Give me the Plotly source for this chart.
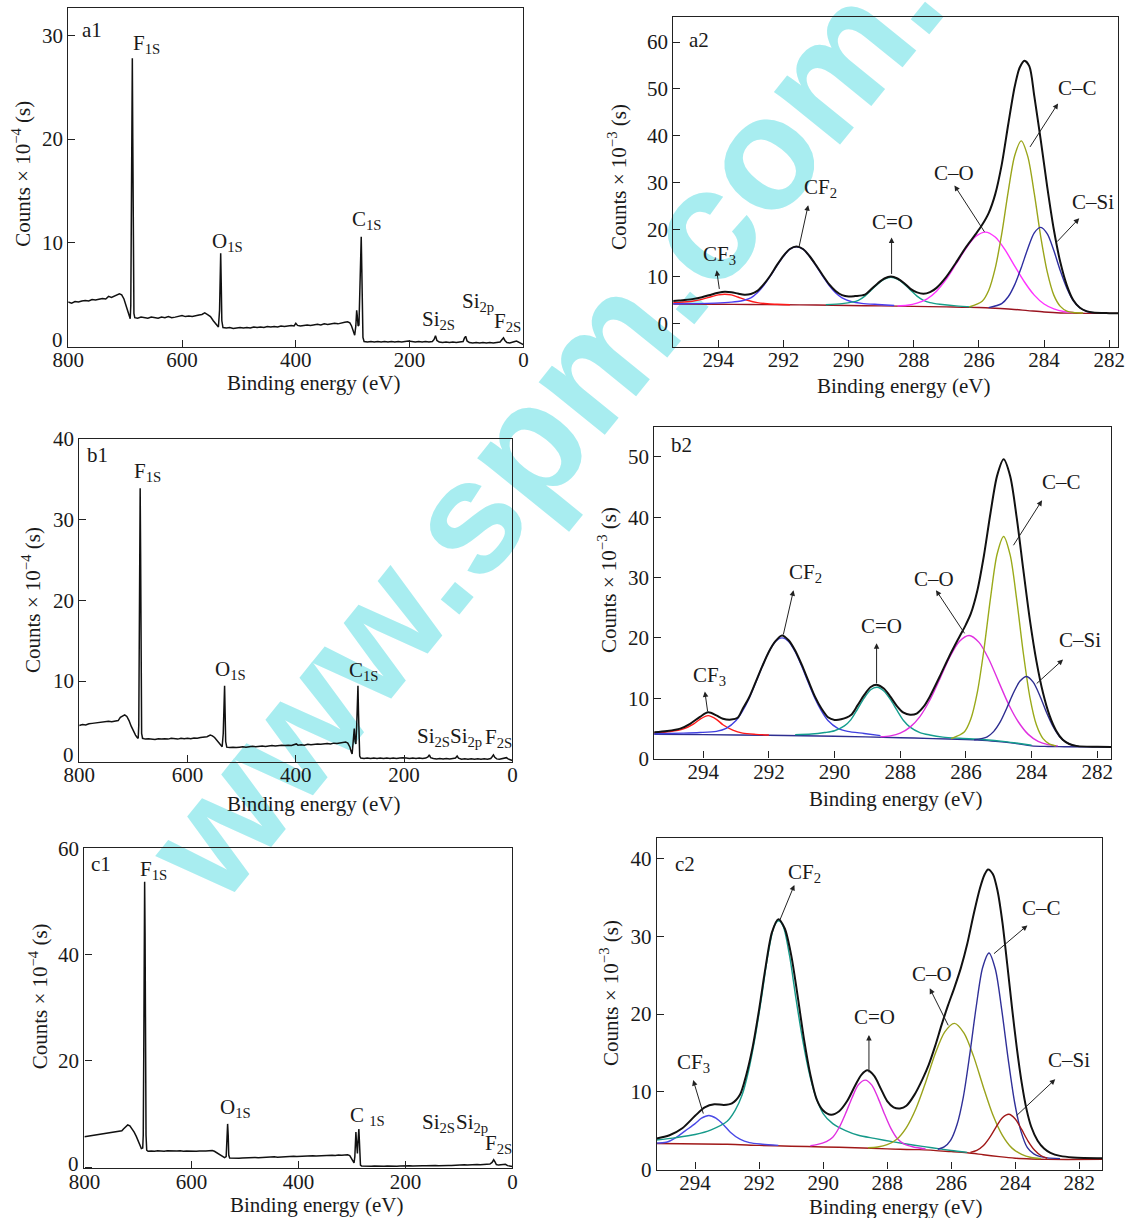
import plotly.graph_objects as go

W, H = 1126, 1218

# ---------------- survey spectra (counts x 10^-4) ----------------
a1_be = [800, 794, 788, 782, 776, 770, 764, 758, 752, 746, 740, 734, 729, 724, 719, 714, 710, 706, 702, 698, 695, 692.5, 691, 690, 689, 688, 687.3, 686.5, 685.5, 684.5, 683, 678, 672, 666, 660, 654, 648, 642, 636, 630, 624, 618, 612, 606, 600, 594, 588, 582, 576, 570, 565, 560, 555, 550, 545, 540, 536, 534, 533, 532, 531, 530, 528, 522, 516, 510, 504, 498, 492, 486, 480, 474, 468, 462, 456, 450, 444, 438, 432, 426, 420, 414, 408, 403, 400, 397, 392, 386, 380, 374, 368, 362, 356, 350, 344, 338, 332, 326, 320, 314, 309, 305, 302, 299, 296.5, 294.5, 293, 292, 290.5, 289, 287.5, 286, 285, 284, 283, 282, 280, 274, 268, 262, 256, 250, 244, 238, 232, 226, 220, 214, 208, 202, 196, 190, 184, 178, 172, 166, 160, 157, 154.5, 152, 148, 142, 136, 130, 124, 118, 112, 106, 103.5, 101.5, 99, 95, 89, 83, 77, 71, 65, 59, 53, 47, 41, 37.5, 35, 32.5, 29, 24, 19, 15, 12, 9, 5, 2, 0]
a1_counts = [4.3, 4.2, 4.35, 4.3, 4.4, 4.45, 4.4, 4.55, 4.5, 4.6, 4.65, 4.6, 4.85, 4.75, 4.9, 5.0, 5.1, 5.0, 4.6, 3.9, 3.3, 2.85, 2.7, 4.0, 12.0, 24.0, 27.8, 20.0, 8.0, 3.2, 2.8, 2.75, 2.85, 2.8, 2.75, 2.85, 2.8, 2.75, 2.85, 2.8, 2.9, 2.8, 2.85, 2.9, 3.0, 2.9, 2.95, 2.9, 3.0, 3.05, 3.1, 3.25, 3.1, 2.9, 2.5, 2.1, 1.9, 3.5, 7.5, 9.0, 6.0, 2.5, 1.85, 1.8, 1.85, 1.75, 1.8, 1.85, 1.8, 1.85, 1.8, 1.9, 1.85, 1.9, 1.85, 1.95, 1.9, 1.95, 1.9, 2.0, 1.95, 2.0, 2.05, 2.0, 2.25, 2.05, 2.0, 2.05, 2.1, 2.05, 2.1, 2.15, 2.1, 2.2, 2.15, 2.2, 2.25, 2.2, 2.3, 2.35, 2.4, 2.3, 2.0, 1.5, 1.1, 2.0, 3.5, 3.0, 2.0, 2.1, 4.5, 8.5, 10.6, 7.5, 2.5, 0.9, 0.5, 0.45, 0.5, 0.45, 0.5, 0.45, 0.5, 0.45, 0.5, 0.45, 0.5, 0.45, 0.5, 0.55, 0.5, 0.45, 0.5, 0.45, 0.5, 0.45, 0.5, 0.7, 1.05, 0.6, 0.45, 0.4, 0.45, 0.4, 0.45, 0.4, 0.45, 0.5, 0.85, 1.0, 0.55, 0.4, 0.35, 0.4, 0.35, 0.4, 0.35, 0.4, 0.35, 0.4, 0.45, 0.7, 0.85, 0.6, 0.4, 0.35, 0.4, 0.5, 0.55, 0.45, 0.3, 0.2, 0.2]

b1_be = [800, 794, 788, 782, 776, 770, 764, 758, 752, 746, 740, 734, 728, 724, 720, 716, 712, 708, 704, 700, 696, 693, 691, 690, 689, 688, 687.4, 686.6, 685.7, 684.7, 683, 678, 672, 666, 660, 654, 648, 642, 636, 630, 624, 618, 612, 606, 600, 594, 588, 582, 576, 570, 564, 558, 554, 550, 545, 540, 536, 534, 532.5, 531.5, 530.5, 529.5, 527.5, 522, 516, 510, 504, 498, 492, 486, 480, 474, 468, 462, 456, 450, 444, 438, 432, 426, 420, 414, 408, 402, 399, 396, 390, 384, 378, 372, 366, 360, 354, 348, 342, 336, 330, 324, 318, 312, 308, 304, 300, 297.5, 296, 294, 292, 290.5, 289, 287.5, 286.2, 285.2, 284.2, 283.2, 282, 280, 274, 268, 262, 256, 250, 244, 238, 232, 226, 220, 214, 208, 202, 196, 190, 184, 178, 172, 166, 160, 156, 153.5, 151, 146, 140, 134, 128, 122, 116, 110, 105, 102, 99.5, 94, 88, 82, 76, 70, 64, 58, 52, 46, 40, 37, 35, 32.5, 29, 24, 18, 14, 11, 8, 4, 0]
b1_counts = [4.5, 4.6, 4.55, 4.7, 4.75, 4.8, 4.85, 4.9, 4.95, 5.0, 4.95, 5.0, 5.1, 5.5, 5.7, 5.8, 5.6, 5.1, 4.4, 3.8, 3.3, 3.0, 2.9, 4.5, 14.0, 28.0, 33.9, 26.0, 11.0, 3.5, 2.9, 2.8, 2.85, 2.8, 2.75, 2.85, 2.8, 2.85, 2.8, 2.9, 2.85, 2.8, 2.9, 2.85, 2.9, 2.85, 2.95, 2.9, 3.0, 3.05, 3.1, 3.3, 3.2, 3.0, 2.6, 2.1, 1.85, 3.5, 7.5, 9.4, 6.0, 2.5, 1.8, 1.75, 1.8, 1.75, 1.8, 1.85, 1.8, 1.85, 1.9, 1.85, 1.9, 1.95, 1.9, 1.95, 2.0, 1.95, 2.0, 2.05, 2.0, 2.05, 2.0, 2.1, 2.2, 2.05, 2.1, 2.05, 2.15, 2.1, 2.15, 2.2, 2.15, 2.2, 2.25, 2.2, 2.3, 2.25, 2.35, 2.4, 2.45, 2.3, 1.8, 1.2, 0.95, 2.5, 4.1, 2.5, 2.2, 4.5, 8.0, 9.4, 6.0, 1.8, 0.7, 0.45, 0.4, 0.45, 0.4, 0.45, 0.4, 0.45, 0.4, 0.45, 0.4, 0.45, 0.4, 0.45, 0.5, 0.45, 0.4, 0.45, 0.4, 0.45, 0.4, 0.45, 0.6, 0.85, 0.5, 0.4, 0.35, 0.4, 0.35, 0.4, 0.35, 0.4, 0.45, 0.7, 0.45, 0.3, 0.35, 0.3, 0.35, 0.3, 0.35, 0.3, 0.35, 0.3, 0.4, 0.65, 0.85, 0.55, 0.35, 0.3, 0.35, 0.45, 0.5, 0.35, 0.2, 0.15]

c1_be = [800, 794, 788, 782, 776, 770, 764, 758, 752, 746, 740, 735, 730, 727, 723, 719, 715, 711, 707, 703, 699, 696, 693.5, 691, 690, 689, 688, 687.4, 686.6, 685.7, 684.8, 683.5, 681, 675, 669, 663, 657, 651, 645, 639, 633, 627, 621, 615, 609, 603, 597, 591, 585, 579, 573, 567, 561, 557, 552, 547, 542, 538, 535, 533.5, 532.3, 531.2, 530.2, 528.5, 523, 517, 511, 505, 499, 493, 487, 481, 475, 469, 463, 457, 451, 445, 439, 433, 427, 421, 415, 409, 403, 397, 391, 385, 379, 373, 367, 361, 355, 349, 343, 337, 331, 325, 319, 313, 308, 304, 300, 297.5, 296, 294.5, 293.3, 292.5, 291.6, 290.5, 289.7, 288.8, 287.8, 287.0, 286.0, 285.0, 284.0, 282, 276, 270, 264, 258, 252, 246, 240, 234, 228, 222, 216, 210, 204, 198, 192, 186, 180, 174, 168, 162, 156, 150, 144, 138, 132, 126, 120, 114, 108, 102, 96, 90, 84, 78, 72, 66, 60, 54, 48, 42, 38, 35, 32.5, 30, 26, 21, 17, 13, 9, 5, 0]
c1_counts = [5.75, 5.85, 5.9, 6.05, 6.1, 6.2, 6.3, 6.35, 6.5, 6.6, 6.7, 6.75, 6.85, 7.2, 7.6, 7.95, 7.8, 7.3, 6.6, 5.8, 4.8, 4.0, 3.5, 3.6, 6.0, 22.0, 45.0, 53.7, 44.0, 20.0, 6.0, 3.2, 3.0, 3.05, 3.0, 3.1, 3.05, 3.0, 3.1, 3.05, 3.0, 3.05, 3.1, 3.0, 3.05, 3.0, 3.05, 3.0, 3.05, 3.0, 3.05, 3.1, 3.15, 3.0, 2.7, 2.3, 1.95, 1.8, 2.0, 5.0, 8.15, 6.0, 2.3, 1.75, 1.7, 1.75, 1.7, 1.75, 1.8, 1.75, 1.8, 1.85, 1.8, 1.85, 1.9, 1.85, 1.9, 1.95, 1.9, 1.95, 2.0, 1.95, 2.0, 2.05, 2.0, 2.05, 2.1, 2.05, 2.1, 2.15, 2.1, 2.15, 2.2, 2.15, 2.2, 2.25, 2.2, 2.3, 2.25, 2.3, 2.35, 2.2, 1.6, 1.0, 0.8, 2.0, 5.0, 6.6, 5.0, 2.8, 2.6, 4.5, 6.5, 7.2, 5.0, 1.5, 0.4, 0.25, 0.2, 0.25, 0.2, 0.25, 0.2, 0.25, 0.2, 0.25, 0.2, 0.25, 0.2, 0.25, 0.3, 0.25, 0.3, 0.25, 0.3, 0.25, 0.3, 0.3, 0.35, 0.3, 0.35, 0.3, 0.35, 0.3, 0.35, 0.35, 0.4, 0.45, 0.4, 0.45, 0.4, 0.45, 0.45, 0.5, 0.45, 0.5, 0.55, 0.6, 0.9, 1.4, 1.0, 0.5, 0.4, 0.5, 0.6, 0.55, 0.3, 0.2, 0.15]

# ---------------- C1s high resolution (counts x 10^-3) ----------------
a2_env_be = [295.6, 295.2, 294.8, 294.5, 294.2, 294.0, 293.8, 293.6, 293.4, 293.2, 293.0, 292.8, 292.6, 292.4, 292.2, 292.0, 291.8, 291.6, 291.4, 291.2, 291.0, 290.8, 290.6, 290.4, 290.2, 290.0, 289.8, 289.5, 289.3, 289.1, 288.9, 288.7, 288.5, 288.3, 288.1, 287.9, 287.7, 287.5, 287.3, 287.0, 286.7, 286.4, 286.1, 285.9, 285.7, 285.5, 285.3, 285.1, 284.9, 284.75, 284.6, 284.45, 284.3, 284.1, 283.9, 283.7, 283.5, 283.3, 283.1, 282.9, 282.7, 282.5, 282.0, 281.6]
a2_env = [4.6, 4.85, 5.15, 5.55, 6.15, 6.5, 6.7, 6.6, 6.35, 6.1, 6.25, 6.9, 8.35, 10.2, 12.4, 14.4, 15.85, 16.35, 15.85, 14.35, 12.4, 10.3, 8.35, 6.9, 6.0, 5.7, 5.8, 6.1, 7.3, 8.55, 9.55, 9.95, 9.55, 8.6, 7.35, 6.6, 6.3, 6.65, 7.55, 9.9, 12.95, 16.2, 19.0, 21.0, 23.5, 27.5, 33.8, 42.4, 50.5, 54.5, 56.0, 54.8, 48.5, 39.0, 29.0, 20.0, 13.0, 8.1, 4.9, 3.3, 2.6, 2.3, 2.15, 2.1]
a2_base_be = [295.6, 294, 293, 292, 291, 290, 289, 288, 287, 286.5, 286, 285.5, 285, 284.5, 284, 283.5, 283, 282.5, 281.6]
a2_base = [4.1, 4.05, 4.0, 3.95, 3.9, 3.8, 3.7, 3.6, 3.5, 3.4, 3.35, 3.2, 3.0, 2.7, 2.4, 2.2, 2.15, 2.1, 2.1]
a2_cf3_be = [295.6, 295.2, 294.8, 294.5, 294.2, 294.0, 293.8, 293.6, 293.4, 293.1, 292.8, 292.5, 292.2, 291.8]
a2_cf3 = [4.3, 4.45, 4.7, 5.1, 5.7, 6.05, 6.2, 6.05, 5.6, 4.9, 4.4, 4.15, 4.05, 3.95]
a2_cf2_be = [295.6, 294.6, 294.1, 293.6, 293.3, 293.0, 292.8, 292.6, 292.4, 292.2, 292.0, 291.8, 291.6, 291.4, 291.2, 291.0, 290.8, 290.6, 290.4, 290.2, 289.9, 289.6, 289.1, 288.6]
a2_cf2 = [4.15, 4.2, 4.3, 4.5, 4.75, 5.4, 6.5, 8.1, 10.1, 12.3, 14.3, 15.8, 16.3, 15.8, 14.3, 12.3, 10.1, 8.1, 6.5, 5.4, 4.6, 4.25, 4.0, 3.8]
a2_cdo_be = [290.7, 290.2, 289.9, 289.7, 289.5, 289.3, 289.1, 288.9, 288.7, 288.5, 288.3, 288.1, 287.9, 287.7, 287.5, 287.2, 286.7, 286.2]
a2_cdo = [3.95, 4.2, 4.5, 4.9, 5.8, 7.1, 8.4, 9.4, 9.8, 9.4, 8.4, 7.1, 5.8, 4.9, 4.4, 4.05, 3.7, 3.5]
a2_co_be = [288.5, 288.2, 287.9, 287.6, 287.3, 287.0, 286.7, 286.4, 286.1, 285.8, 285.5, 285.2, 284.9, 284.6, 284.3, 284.0, 283.7, 283.4, 283.1]
a2_co = [3.7, 3.85, 4.3, 5.15, 6.85, 9.4, 12.65, 15.95, 18.5, 19.45, 18.4, 15.7, 12.2, 8.8, 6.0, 4.1, 3.07, 2.5, 2.3]
a2_cc_be = [286.3, 285.9, 285.7, 285.5, 285.3, 285.1, 284.9, 284.7, 284.5, 284.3, 284.1, 283.9, 283.7, 283.5, 283.3, 283.1, 282.8]
a2_cc = [3.5, 4.7, 7.0, 11.7, 19.0, 28.1, 35.8, 38.9, 35.6, 27.7, 18.4, 10.9, 6.0, 3.6, 2.6, 2.3, 2.2]
a2_csi_be = [285.7, 285.3, 285.1, 284.9, 284.7, 284.5, 284.3, 284.1, 283.9, 283.7, 283.5, 283.3, 283.1, 282.9, 282.7, 282.5]
a2_csi = [3.35, 4.2, 5.65, 8.25, 11.85, 15.9, 19.3, 20.45, 19.05, 15.5, 11.2, 7.5, 4.8, 3.3, 2.55, 2.25]

b2_env_be = [295.6, 295.1, 294.7, 294.4, 294.1, 293.85, 293.6, 293.4, 293.15, 292.95, 292.8, 292.6, 292.4, 292.2, 292.0, 291.8, 291.6, 291.4, 291.2, 291.0, 290.8, 290.6, 290.4, 290.2, 290.0, 289.8, 289.5, 289.3, 289.1, 288.9, 288.7, 288.5, 288.3, 288.1, 287.9, 287.7, 287.5, 287.3, 287.1, 286.8, 286.5, 286.2, 286.0, 285.85, 285.65, 285.45, 285.25, 285.05, 284.85, 284.65, 284.45, 284.25, 284.05, 283.85, 283.65, 283.45, 283.25, 283.05, 282.85, 282.6, 282.0, 281.5]
b2_env = [4.3, 4.55, 4.95, 5.75, 6.9, 7.65, 7.15, 6.6, 6.45, 6.75, 8.2, 10.15, 12.7, 15.3, 17.7, 19.45, 20.4, 19.6, 17.9, 15.55, 12.9, 10.3, 8.3, 6.85, 6.4, 6.5, 7.2, 8.8, 10.5, 11.85, 12.2, 11.6, 10.25, 8.7, 7.6, 7.25, 7.45, 8.5, 10.25, 13.55, 17.0, 20.15, 22.2, 24.0, 27.85, 33.65, 40.7, 46.85, 49.6, 46.8, 39.85, 31.25, 22.95, 16.1, 10.85, 7.1, 4.6, 3.1, 2.4, 2.05, 1.95, 1.9]
b2_base_be = [295.6, 294, 292, 290, 288, 287, 286, 285.5, 285, 284.5, 284, 283.5, 283, 281.5]
b2_base = [4.0, 3.95, 3.85, 3.7, 3.45, 3.3, 3.15, 3.0, 2.8, 2.5, 2.1, 2.0, 1.95, 1.9]
b2_cf3_be = [295.6, 295.0, 294.6, 294.3, 294.1, 293.85, 293.6, 293.4, 293.1, 292.8, 292.4, 292.0]
b2_cf3 = [4.2, 4.45, 4.9, 5.7, 6.5, 7.1, 6.5, 5.6, 4.7, 4.2, 4.0, 3.9]
b2_cf2_be = [295.6, 294.6, 294.1, 293.6, 293.3, 293.0, 292.8, 292.6, 292.4, 292.2, 292.0, 291.8, 291.6, 291.4, 291.2, 291.0, 290.8, 290.6, 290.4, 290.2, 289.9, 289.6, 289.1, 288.6]
b2_cf2 = [4.1, 4.2, 4.3, 4.5, 5.0, 6.3, 7.9, 10.0, 12.6, 15.3, 17.7, 19.4, 20.0, 19.4, 17.7, 15.3, 12.6, 10.0, 7.9, 6.3, 5.0, 4.5, 4.15, 3.8]
b2_cdo_be = [291.2, 290.7, 290.3, 290.0, 289.7, 289.5, 289.3, 289.1, 288.9, 288.7, 288.5, 288.3, 288.1, 287.9, 287.7, 287.4, 287.1, 286.7, 286.2, 285.5, 284.8, 284.0]
b2_cdo = [3.95, 4.05, 4.3, 4.6, 5.4, 6.45, 8.2, 10.0, 11.4, 11.8, 11.2, 9.8, 8.0, 6.3, 5.2, 4.3, 3.9, 3.55, 3.35, 3.15, 2.8, 2.2]
b2_co_be = [288.6, 288.3, 288.0, 287.7, 287.4, 287.1, 286.8, 286.5, 286.2, 285.9, 285.6, 285.3, 285.0, 284.7, 284.4, 284.1, 283.8, 283.5, 283.2]
b2_co = [3.6, 3.75, 4.2, 5.2, 6.95, 9.65, 13.1, 16.7, 19.4, 20.4, 19.25, 16.45, 12.7, 9.0, 6.05, 4.0, 2.85, 2.3, 2.1]
b2_cc_be = [286.45, 286.05, 285.85, 285.65, 285.45, 285.25, 285.05, 284.85, 284.65, 284.45, 284.25, 284.05, 283.85, 283.65, 283.45, 283.25]
b2_cc = [3.3, 4.4, 6.55, 11.0, 18.05, 26.6, 33.85, 36.8, 33.7, 26.25, 17.45, 10.15, 5.55, 3.3, 2.4, 2.1]
b2_csi_be = [285.75, 285.35, 285.15, 284.95, 284.75, 284.55, 284.35, 284.15, 283.95, 283.75, 283.55, 283.35, 283.15, 282.95, 282.75, 282.55]
b2_csi = [3.1, 3.6, 4.5, 6.1, 8.4, 10.9, 12.85, 13.6, 12.65, 10.45, 7.7, 5.35, 3.65, 2.7, 2.2, 2.0]

c2_env_be = [295.4, 295.2, 294.8, 294.4, 294.0, 293.7, 293.4, 293.1, 292.85, 292.6, 292.4, 292.2, 292.0, 291.8, 291.6, 291.4, 291.2, 291.0, 290.8, 290.6, 290.4, 290.2, 290.0, 289.75, 289.5, 289.25, 289.0, 288.8, 288.62, 288.4, 288.2, 288.0, 287.8, 287.6, 287.4, 287.15, 286.9, 286.7, 286.5, 286.3, 286.1, 285.9, 285.7, 285.5, 285.3, 285.1, 284.95, 284.85, 284.7, 284.55, 284.4, 284.25, 284.1, 283.95, 283.8, 283.65, 283.5, 283.3, 283.1, 282.9, 282.6, 282.2, 281.2]
c2_env = [3.9, 4.0, 4.4, 5.3, 6.9, 8.0, 8.4, 8.3, 8.5, 9.6, 12.2, 15.8, 20.6, 26.0, 30.5, 32.2, 31.0, 27.6, 22.4, 16.8, 12.2, 9.0, 7.6, 7.05, 7.5, 8.8, 10.8, 12.2, 12.75, 12.0, 10.4, 8.8, 8.0, 7.85, 8.2, 9.6, 11.6, 13.5, 15.9, 18.6, 21.1, 23.4, 25.9, 29.0, 32.8, 36.2, 38.0, 38.6, 38.0, 35.8, 31.8, 26.4, 20.8, 15.6, 11.2, 7.8, 5.5, 3.7, 2.7, 2.15, 1.75, 1.55, 1.45]
c2_base_be = [295.4, 293, 292, 291, 290, 289, 288, 287, 286, 285.5, 285, 284.5, 284, 283.5, 283, 281.2]
c2_base = [3.35, 3.25, 3.1, 3.0, 2.9, 2.8, 2.65, 2.55, 2.3, 2.15, 1.9, 1.65, 1.45, 1.35, 1.3, 1.3]
c2_cf3_be = [295.4, 294.9, 294.6, 294.3, 294.0, 293.8, 293.57, 293.35, 293.1, 292.9, 292.6, 292.3, 291.9, 291.4]
c2_cf3 = [3.4, 3.5, 4.1, 5.0, 5.9, 6.6, 6.95, 6.6, 5.7, 4.8, 3.9, 3.45, 3.25, 3.1]
c2_cf2_be = [295.4, 294.6, 294.0, 293.5, 293.0, 292.75, 292.53, 292.33, 292.13, 291.93, 291.73, 291.53, 291.39, 291.25, 291.05, 290.85, 290.65, 290.45, 290.25, 290.0, 289.7, 289.3, 288.9, 288.4, 287.8, 287.2, 286.6, 286.0, 285.5]
c2_cf2 = [3.7, 4.1, 4.5, 5.1, 6.2, 7.6, 9.6, 12.7, 16.9, 22.0, 27.5, 31.3, 32.0, 31.3, 27.5, 22.0, 16.9, 12.7, 9.6, 7.2, 5.9, 5.0, 4.4, 4.0, 3.55, 3.15, 2.8, 2.45, 2.2]
c2_cdo_be = [290.4, 290.2, 289.9, 289.7, 289.5, 289.3, 289.1, 288.9, 288.68, 288.48, 288.28, 288.08, 287.88, 287.68, 287.48, 287.18, 286.8]
c2_cdo = [3.05, 3.2, 3.6, 4.15, 5.4, 7.2, 9.2, 10.9, 11.5, 10.85, 9.15, 7.1, 5.25, 3.95, 3.3, 2.9, 2.65]
c2_co_be = [288.6, 288.3, 288.0, 287.7, 287.4, 287.1, 286.8, 286.5, 286.2, 285.9, 285.6, 285.3, 285.0, 284.7, 284.4, 284.1, 283.8, 283.5, 283.2]
c2_co = [2.8, 2.9, 3.2, 3.9, 5.4, 7.85, 11.2, 14.9, 17.7, 18.8, 17.55, 14.55, 10.65, 7.05, 4.4, 2.75, 1.95, 1.55, 1.4]
c2_cc_be = [286.42, 286.22, 286.02, 285.82, 285.62, 285.42, 285.22, 285.02, 284.82, 284.62, 284.42, 284.22, 284.02, 283.82, 283.62, 283.42, 283.22, 283.0, 282.6]
c2_cc = [2.6, 2.9, 3.75, 5.75, 9.35, 14.8, 20.9, 25.95, 27.85, 25.75, 20.5, 14.2, 8.65, 4.9, 2.8, 2.0, 1.65, 1.5, 1.4]
c2_csi_be = [285.4, 285.2, 285.0, 284.8, 284.6, 284.4, 284.2, 284.0, 283.8, 283.6, 283.4, 283.2, 283.0]
c2_csi = [2.2, 2.45, 3.05, 4.1, 5.45, 6.65, 7.1, 6.5, 5.15, 3.65, 2.5, 1.8, 1.45]

# ---------------- text ----------------
survey_peak_names = ["F<sub>1S</sub>", "O<sub>1S</sub>", "C<sub>1S</sub>", "Si<sub>2S</sub>", "Si<sub>2p</sub>", "F<sub>2S</sub>"]
c1_peak_names = ["F<sub>1S</sub>", "O<sub>1S</sub>", "C <sub>1S</sub>", "Si<sub>2S</sub>", "Si<sub>2p</sub>", "F<sub>2S</sub>"]
bond_names = ["CF<sub>3</sub>", "CF<sub>2</sub>", "C=O", "C\u2013O", "C\u2013C", "C\u2013Si"]
panel_names = ["a1", "a2", "b1", "b2", "c1", "c2"]
survey_ytitle = "Counts \u00d7 10<sup>\u22124</sup> (s)"
hires_ytitle = "Counts \u00d7 10<sup>\u22123</sup> (s)"
xtitle = "Binding energy (eV)"
watermark = "www.spm.com."

# ---------------- layout helpers ----------------
SERIF = "Liberation Serif, Times New Roman, serif"
FS = 21
FONT = dict(family=SERIF, size=FS, color="#1a1a1a")


def xdom(p0, p1):
    return [p0 / W, p1 / W]


def ydom(top, bottom):
    return [1 - bottom / H, 1 - top / H]


panels = {
    # id: (xdomain, ydomain, xrange, yrange, xticks, yticks)
    "1": (xdom(68.2, 523.4), ydom(8.3, 346.7), [800, 0], [0, 32.6], [800, 600, 400, 200, 0], [0, 10, 20, 30]),
    "2": (xdom(673.3, 1118), ydom(16.7, 346.7), [295.38, 281.73], [-5, 65.4], [294, 292, 290, 288, 286, 284, 282], [0, 10, 20, 30, 40, 50, 60]),
    "3": (xdom(79.2, 512.4), ydom(439, 761.7), [800, 0], [0, 40], [800, 600, 400, 200, 0], [0, 10, 20, 30, 40]),
    "4": (xdom(654.3, 1111), ydom(426.7, 758.5), [295.49, 281.58], [0, 55], [294, 292, 290, 288, 286, 284, 282], [0, 10, 20, 30, 40, 50]),
    "5": (xdom(84.4, 512.4), ydom(848.3, 1168.3), [800, 0], [-0.2, 60], [800, 600, 400, 200, 0], [0, 20, 40, 60]),
    "6": (xdom(656.7, 1102.3), ydom(838.3, 1169.5), [295.2, 281.28], [0, 42.6], [294, 292, 290, 288, 286, 284, 282], [0, 10, 20, 30, 40]),
}
# survey panels: the "0" on the y axis sits a little above the corner (label drawn separately)
raised_zero = {"1": 7, "3": 7, "5": 3}

fig = go.Figure()


def ax_names(i):
    return ("x" if i == "1" else "x" + i), ("y" if i == "1" else "y" + i)


def add_line(i, xs, ys, color, width=1.4, spline=True):
    xa, ya = ax_names(i)
    fig.add_trace(go.Scatter(
        x=xs, y=ys, mode="lines", xaxis=xa, yaxis=ya, showlegend=False, hoverinfo="skip",
        line=dict(color=color, width=width, shape="spline" if spline else "linear", smoothing=0.8)))


# survey spectra
add_line("1", a1_be, a1_counts, "#111111", 1.5, spline=False)
add_line("3", b1_be, b1_counts, "#111111", 1.5, spline=False)
add_line("5", c1_be, c1_counts, "#111111", 1.5, spline=False)

# a2 components
add_line("2", a2_base_be, a2_base, "#9a1420")
add_line("2", a2_cf3_be, a2_cf3, "#ff1a1a")
add_line("2", a2_cf2_be, a2_cf2, "#4a3cf0")
add_line("2", a2_cdo_be, a2_cdo, "#17a08a")
add_line("2", a2_co_be, a2_co, "#ff33ff")
add_line("2", a2_cc_be, a2_cc, "#9aa51a")
add_line("2", a2_csi_be, a2_csi, "#2e2ea0")
add_line("2", a2_env_be, a2_env, "#111111", 2.0)

# b2 components
add_line("4", b2_base_be, b2_base, "#2e2e90")
add_line("4", b2_cf3_be, b2_cf3, "#ff1a1a")
add_line("4", b2_cf2_be, b2_cf2, "#4040e0")
add_line("4", b2_cdo_be, b2_cdo, "#159e8e")
add_line("4", b2_co_be, b2_co, "#e030e0")
add_line("4", b2_cc_be, b2_cc, "#9aaa1a")
add_line("4", b2_csi_be, b2_csi, "#2e2e90")
add_line("4", b2_env_be, b2_env, "#111111", 2.0)

# c2 components
add_line("6", c2_base_be, c2_base, "#a01818")
add_line("6", c2_cf3_be, c2_cf3, "#4a4ae6")
add_line("6", c2_cf2_be, c2_cf2, "#169a8a")
add_line("6", c2_cdo_be, c2_cdo, "#e030e0")
add_line("6", c2_co_be, c2_co, "#9aa31c")
add_line("6", c2_cc_be, c2_cc, "#303098")
add_line("6", c2_csi_be, c2_csi, "#a01818")
add_line("6", c2_env_be, c2_env, "#111111", 2.0)

# axes
layout_axes = {}
for i, (xd, yd, xr, yr, xt, yt) in panels.items():
    xa, ya = ax_names(i)
    xkey = "xaxis" if i == "1" else "xaxis" + i
    ykey = "yaxis" if i == "1" else "yaxis" + i
    common = dict(showline=True, linecolor="#222222", linewidth=1.2, mirror=True,
                  ticks="inside", ticklen=7, tickwidth=1, tickcolor="#222222",
                  showgrid=False, zeroline=False, tickfont=FONT, automargin=False,
                  fixedrange=True)
    ytext = ["" if (v == 0 and i in raised_zero) else str(v) for v in yt]
    layout_axes[xkey] = dict(domain=xd, range=xr, anchor=ya, tickmode="array", tickvals=xt,
                             ticktext=[str(v) for v in xt], ticklabelstandoff=-6, **common)
    layout_axes[ykey] = dict(domain=yd, range=yr, anchor=xa, tickmode="array", tickvals=yt,
                             ticktext=ytext, **common)

annotations = []

for i, shift in raised_zero.items():
    xa, ya = ax_names(i)
    annotations.append(dict(x=panels[i][0][0], y=0, xref="paper", yref=ya, text="0",
                            showarrow=False, xanchor="right", yanchor="middle",
                            xshift=-3, yshift=shift, font=FONT))


def text_ann(i, x, y, txt):
    xa, ya = ax_names(i)
    annotations.append(dict(x=x, y=y, xref=xa, yref=ya, text=txt, showarrow=False,
                            xanchor="center", yanchor="middle", font=FONT))


def arrow_ann(i, x_tail, y_tail, x_head, y_head):
    xa, ya = ax_names(i)
    annotations.append(dict(x=x_head, y=y_head, ax=x_tail, ay=y_tail, xref=xa, yref=ya,
                            axref=xa, ayref=ya, text="", showarrow=True, arrowhead=2,
                            arrowsize=1.1, arrowwidth=1, arrowcolor="#222222", standoff=0,
                            startstandoff=0))


# survey labels
text_ann("1", 758, 30.5, panel_names[0])
for name, (x, y) in zip(survey_peak_names, [(662.8, 29.2), (519.4, 10.1), (274.5, 12.2), (148.8, 2.6), (80.5, 4.3), (27.8, 2.4)]):
    text_ann("1", x, y, name)
text_ann("3", 766.4, 38.0, panel_names[2])
for name, (x, y) in zip(survey_peak_names, [(674.1, 35.9), (521.4, 11.4), (273.4, 11.2), (146.3, 3.1), (86.4, 3.1), (25.3, 2.9)]):
    text_ann("3", x, y, name)
text_ann("5", 769.9, 57.1, panel_names[4])
for name, (x, y) in zip(c1_peak_names, [(671.4, 55.9), (516.9, 11.2), (270.4, 9.6), (137.7, 8.4), (74.8, 8.4), (25.7, 4.3)]):
    text_ann("5", x, y, name)

# high-resolution labels with arrows: (label x, label y, tail x, tail y, head x, head y)
a2_marks = [(293.95, 14.5, 293.96, 7.0, 294.05, 11.3),
            (290.85, 28.8, 291.53, 16.0, 291.24, 25.2),
            (288.65, 21.5, 288.68, 10.2, 288.68, 18.3),
            (286.75, 32.0, 285.8, 19.2, 286.75, 29.4),
            (282.98, 50.1, 284.46, 37.3, 283.57, 46.9),
            (282.49, 25.8, 283.64, 17.1, 282.92, 22.4)]
b2_marks = [(293.81, 13.6, 293.86, 7.55, 293.95, 11.1),
            (290.89, 30.7, 291.57, 20.3, 291.25, 27.9),
            (288.56, 21.9, 288.72, 12.2, 288.72, 19.1),
            (286.97, 29.7, 286.01, 20.5, 286.91, 27.9),
            (283.09, 45.8, 284.58, 35.1, 283.68, 42.8),
            (282.51, 19.6, 283.89, 12.2, 283.04, 16.4)]
c2_marks = [(294.06, 13.7, 293.73, 7.0, 294.06, 11.5),
            (290.58, 38.1, 291.37, 31.9, 290.9, 36.6),
            (288.4, 19.6, 288.57, 12.3, 288.57, 17.3),
            (286.61, 25.2, 286.07, 18.35, 286.67, 23.3),
            (283.19, 33.6, 284.71, 27.6, 283.62, 31.4),
            (282.32, 14.06, 284.0, 6.77, 282.75, 11.6)]
for pid, marks, pname, lab in (("2", a2_marks, panel_names[1], (294.6, 60.4)),
                               ("4", b2_marks, panel_names[3], (294.66, 52.0)),
                               ("6", c2_marks, panel_names[5], (294.33, 39.35))):
    text_ann(pid, lab[0], lab[1], pname)
    for name, (lx, ly, tx, ty, hx, hy) in zip(bond_names, marks):
        arrow_ann(pid, tx, ty, hx, hy)
        text_ann(pid, lx, ly, name)


# axis titles (paper coords, from pixel positions)
def paper_text(px, py, txt, angle=0):
    annotations.append(dict(x=px / W, y=1 - py / H, xref="paper", yref="paper", text=txt,
                            showarrow=False, xanchor="center", yanchor="middle", textangle=angle,
                            font=FONT))


for (xx, xy), (yx, yy), yt in (((313.4, 383), (21.4, 173.3), survey_ytitle),
                               ((903.8, 386), (617, 177), hires_ytitle),
                               ((313.4, 804), (31, 600), survey_ytitle),
                               ((895, 799), (607, 580), hires_ytitle),
                               ((316.8, 1205), (38.6, 996.7), survey_ytitle),
                               ((895, 1207), (610, 993), hires_ytitle)):
    paper_text(xx, xy, xtitle)
    paper_text(yx, yy, yt, -90)

# watermark, drawn beneath the plots (line through the text centre at about 51 degrees)
shapes = [dict(type="line", xref="paper", yref="paper", layer="below",
               x0=216 / W, y0=1 - 803 / H, x1=846 / W, y1=1 - 25 / H,
               line=dict(color="rgba(0,0,0,0)", width=1),
               label=dict(text=watermark, textposition="middle", yanchor="middle",
                          font=dict(family="Liberation Sans, Arial, sans-serif", size=160,
                                    color="#a8edf0", weight="bold")))]

fig.update_layout(template="none", width=W, height=H, autosize=False,
                  margin=dict(l=0, r=0, t=0, b=0, pad=0),
                  paper_bgcolor="white", plot_bgcolor="rgba(0,0,0,0)",
                  showlegend=False, annotations=annotations, shapes=shapes, **layout_axes)

fig.write_html("out.html", config={"displayModeBar": False},
               post_script="document.body.style.margin='0px';document.body.style.overflow='hidden';")
